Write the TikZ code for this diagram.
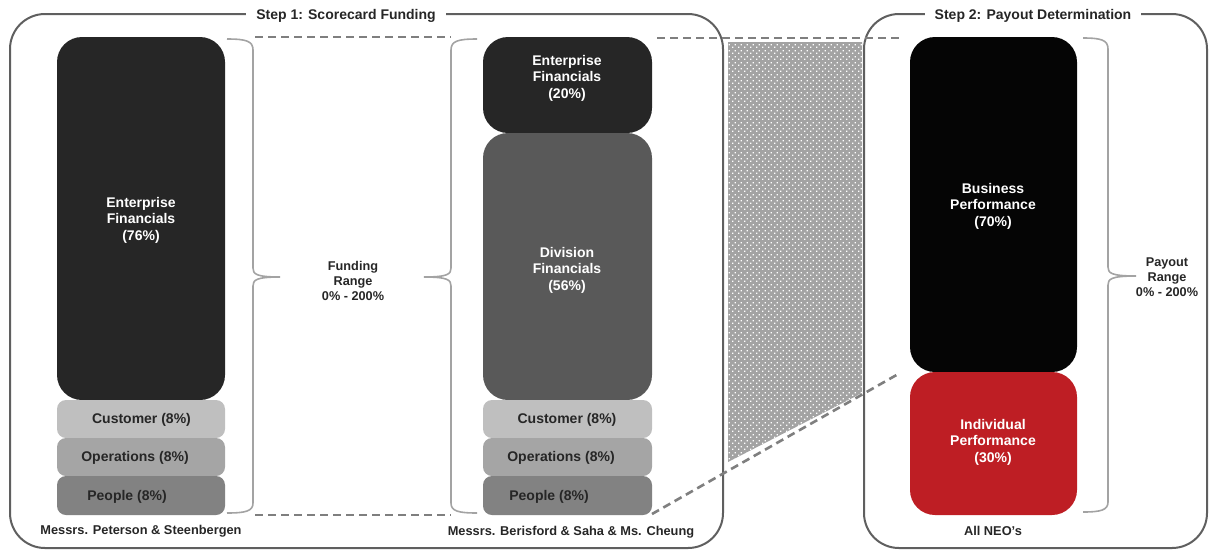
\documentclass[tikz,border=0pt]{standalone}
\usepackage{fontspec}
\setmainfont{Liberation Sans}
\usetikzlibrary{patterns.meta}
\definecolor{framegray}{HTML}{5F5F5F}
\definecolor{bracegray}{HTML}{A3A3A3}
\definecolor{dashgray}{HTML}{7F7F7F}
\definecolor{hatchgray}{HTML}{A3A3A3}
\definecolor{entdark}{HTML}{262626}
\definecolor{divgray}{HTML}{595959}
\definecolor{custgray}{HTML}{BFBFBF}
\definecolor{opsgray}{HTML}{A5A5A5}
\definecolor{peopgray}{HTML}{828282}
\definecolor{bizblack}{HTML}{050505}
\definecolor{indred}{HTML}{BE1E24}
\definecolor{txtdark}{HTML}{262626}
\tikzdeclarepattern{
  name=wdots,
  type=uncolored,
  bounding box={(0pt,0pt) and (5.5pt,5.5pt)},
  tile size={(5.5pt,5.5pt)},
  code={\fill (0.2pt,0.2pt) rectangle (1.4pt,1.4pt);
        \fill (2.95pt,2.95pt) rectangle (4.15pt,4.15pt);}
}
\tikzset{
  frame/.style={draw=framegray, line width=2pt, rounded corners=35pt},
  titlebox/.style={fill=white, inner xsep=10pt, inner ysep=2pt, text=txtdark,
    font=\fontsize{14}{16}\selectfont\bfseries},
  bigbar/.style={inner sep=0pt, outer sep=0pt, rounded corners=25pt},
  smallbar/.style={inner sep=0pt, outer sep=0pt, rounded corners=9pt,
    minimum height=38pt},
  bartext/.style={align=center, inner sep=0pt,
    font=\fontsize{14}{16.5}\selectfont\bfseries},
  whitetext/.style={bartext, text=white},
  darktext/.style={bartext, text=txtdark},
  rangetext/.style={align=center, inner sep=0pt, text=txtdark,
    font=\fontsize{12.7}{15}\selectfont\bfseries},
  foottext/.style={inner sep=0pt, text=txtdark,
    font=\fontsize{12.8}{15}\selectfont\bfseries},
  bracestyle/.style={draw=bracegray, line width=1.6pt},
  dashline/.style={draw=dashgray, line width=2.6pt, dash pattern=on 8pt off 5pt}
}
\begin{document}
\begin{tikzpicture}[x=1pt,y=-1pt]
\useasboundingbox (0,0) rectangle (1212,550);

% frames
\draw[frame] (10,14) rectangle (723,548);
\draw[frame] (864,14) rectangle (1207,548);
\node[titlebox] (t1) at (346,16) {Step 1: Scorecard Funding};
\node[titlebox] (t2) at (1033,16) {Step 2: Payout Determination};

% hatched funnel
\fill[hatchgray] (728,42) -- (862,42) -- (862,393) -- (728,462) -- cycle;
\fill[pattern=wdots, pattern color=white] (728,42) -- (862,42) -- (862,393) -- (728,462) -- cycle;

% dashed connectors
\coordinate (dA1) at (255,37); \coordinate (dA2) at (451,37);
\coordinate (dB1) at (255,515); \coordinate (dB2) at (451,515);
\coordinate (dC1) at (657,38); \coordinate (dC2) at (903,38);
\coordinate (dD1) at (652,514); \coordinate (dD2) at (900,373);
\draw[dashline] (dA1) -- (dA2);
\draw[dashline] (dB1) -- (dB2);
\draw[dashline] (dC1) -- (dC2);
\draw[dashline] (dD1) -- (dD2);

% left column
\node[bigbar, fill=entdark, minimum width=168pt, minimum height=363pt] (lent) at (141,218.5) {};
\node[smallbar, fill=custgray, minimum width=168pt] (lcust) at (141,419) {};
\node[smallbar, fill=opsgray, minimum width=168pt] (lops) at (141,457) {};
\node[smallbar, fill=peopgray, minimum width=168pt, minimum height=39pt] (lpeop) at (141,495.5) {};

% middle column
\node[bigbar, fill=entdark, minimum width=169pt, minimum height=96pt] (ment) at (567.5,85) {};
\node[bigbar, fill=divgray, minimum width=169pt, minimum height=267pt] (mdiv) at (567.5,266.5) {};
\node[smallbar, fill=custgray, minimum width=169pt] (mcust) at (567.5,419) {};
\node[smallbar, fill=opsgray, minimum width=169pt] (mops) at (567.5,457) {};
\node[smallbar, fill=peopgray, minimum width=169pt, minimum height=39pt] (mpeop) at (567.5,495.5) {};

% right column
\node[bigbar, fill=bizblack, minimum width=167pt, minimum height=335pt] (rbus) at (993.5,204.5) {};
\node[bigbar, fill=indred, minimum width=167pt, minimum height=143pt] (rind) at (993.5,443.5) {};

% braces
\draw[bracestyle] (227,39) .. controls (246,39) and (253,41) .. (253,50)
  -- (253,268) .. controls (253,274) and (256,277) .. (280,277)
  .. controls (256,277) and (253,280) .. (253,286)
  -- (253,503) .. controls (253,511) and (246,513) .. (227,513);
\draw[bracestyle] (477,39) .. controls (458,39) and (451,41) .. (451,50)
  -- (451,268) .. controls (451,274) and (448,277) .. (424,277)
  .. controls (448,277) and (451,280) .. (451,286)
  -- (451,503) .. controls (451,511) and (458,513) .. (477,513);
\draw[bracestyle] (1083,38) .. controls (1101,38) and (1108,40) .. (1108,49)
  -- (1108,267) .. controls (1108,273) and (1111,276) .. (1136,276)
  .. controls (1111,276) and (1108,279) .. (1108,285)
  -- (1108,502) .. controls (1108,510) and (1101,512) .. (1083,512);

% texts
\node[whitetext] (lentT) at (141,220) {Enterprise\\Financials\\(76\%)};
\node[darktext] (lcustT) at (141.5,420) {Customer (8\%)};
\node[darktext] (lopsT) at (135,458) {Operations (8\%)};
\node[darktext] (lpeopT) at (127,497) {People (8\%)};

\node[whitetext] (mentT) at (567,78) {Enterprise\\Financials\\(20\%)};
\node[whitetext] (mdivT) at (567,270) {Division\\Financials\\(56\%)};
\node[darktext] (mcustT) at (567,420) {Customer (8\%)};
\node[darktext] (mopsT) at (561,458) {Operations (8\%)};
\node[darktext] (mpeopT) at (549,497) {People (8\%)};

\node[whitetext] (rbusT) at (993,206) {Business\\Performance\\(70\%)};
\node[whitetext] (rindT) at (993,442) {Individual\\Performance\\(30\%)};

\node[rangetext] (fund) at (353,281) {Funding\\Range\\0\% - 200\%};
\node[rangetext] (pay) at (1167,277) {Payout\\Range\\0\% - 200\%};

\node[foottext] (f1) at (141,531) {Messrs. Peterson \& Steenbergen};
\node[foottext] (f2) at (571,532) {Messrs. Berisford \& Saha \& Ms. Cheung};
\node[foottext] (f3) at (993,531) {All NEO's};
\end{tikzpicture}
\end{document}
